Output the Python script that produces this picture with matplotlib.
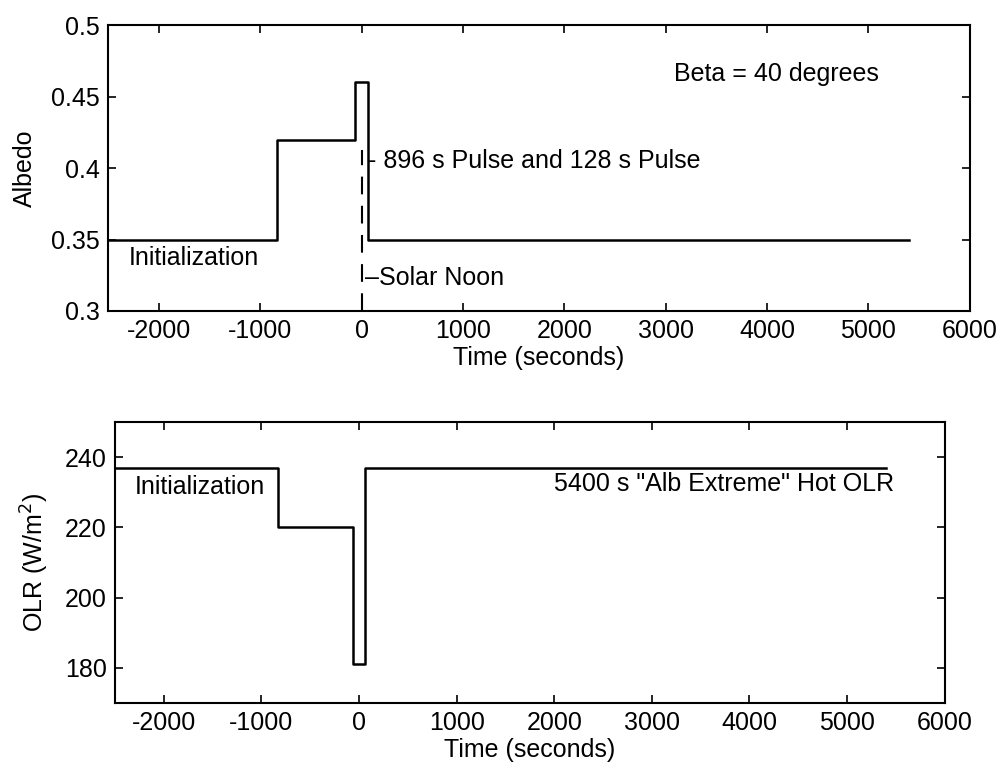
import matplotlib
matplotlib.use("Agg")
import matplotlib.pyplot as plt
from matplotlib.ticker import FormatStrFormatter

plt.rcParams['font.family'] = ['Liberation Sans', 'DejaVu Sans']
plt.rcParams['axes.unicode_minus'] = False
FS = 18

# step change times (s) relative to solar noon
time_s = [-2500, -832, -64, 64, 5400]
albedo = [0.35, 0.42, 0.46, 0.35, 0.35]
olr = [237, 220, 181, 237, 237]

noon_x = [0, 0]
noon_y = [0.3, 0.413]

xticks = [-2000, -1000, 0, 1000, 2000, 3000, 4000, 5000, 6000]
albedo_ticks = [0.3, 0.35, 0.4, 0.45, 0.5]
olr_ticks = [180, 200, 220, 240]

fig = plt.figure(figsize=(10.05, 7.65), dpi=100)
ax1 = fig.add_axes([0.1075, 0.5935, 0.8575, 0.3735])
ax2 = fig.add_axes([0.1144, 0.081, 0.8256, 0.3674])


def style(ax):
    ax.tick_params(direction='in', top=True, right=True, length=6, width=1.2,
                   labelsize=FS, pad=6)
    for s in ax.spines.values():
        s.set_linewidth(1.5)
    ax.set_xlim(-2500, 6000)
    ax.set_xticks(xticks)
    ax.set_xlabel("Time (seconds)", fontsize=FS, labelpad=2)


ax1.plot(time_s, albedo, drawstyle='steps-post', color='black', lw=1.8)
ax1.plot(noon_x, noon_y, color='black', lw=1.5, linestyle=(0, (8.5, 5.5)))
ax1.set_ylim(0.3, 0.5)
ax1.set_yticks(albedo_ticks)
ax1.yaxis.set_major_formatter(FormatStrFormatter('%g'))
ax1.set_ylabel("Albedo", fontsize=FS, labelpad=10)
style(ax1)
ax1.text(-2300, 0.337, "Initialization", va='center', fontsize=FS)
ax1.text(3080, 0.466, "Beta = 40 degrees", va='center', fontsize=FS)
ax1.text(60, 0.405, "- 896 s Pulse and 128 s Pulse", va='center', fontsize=FS)
ax1.text(30, 0.323, "\u2013Solar Noon", va='center', fontsize=FS)

ax2.plot(time_s, olr, drawstyle='steps-post', color='black', lw=1.8)
ax2.set_ylim(170, 250)
ax2.set_yticks(olr_ticks)
ax2.set_ylabel("OLR (W/m$^2$)", fontsize=FS, labelpad=10)
style(ax2)
ax2.text(-2300, 231.4, "Initialization", va='center', fontsize=FS)
ax2.text(2000, 232.3, '5400 s "Alb Extreme" Hot OLR', va='center', fontsize=FS)

fig.savefig("out.png", dpi=100)
